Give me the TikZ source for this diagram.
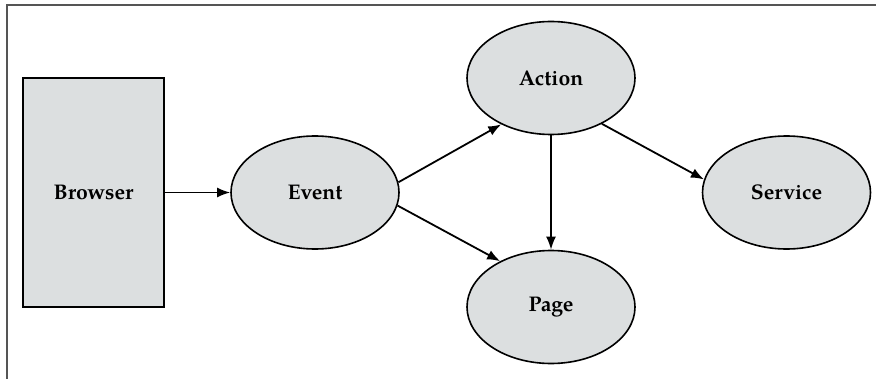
\documentclass[tikz,border=0pt]{standalone}
\usepackage{fontspec}
\setmainfont{TeX Gyre Pagella}
\usetikzlibrary{shapes.geometric,arrows.meta}
\definecolor{boxfill}{HTML}{DCDFE0}
\definecolor{framegray}{HTML}{555555}
\tikzset{
  base/.style={draw=black, line width=0.8pt, fill=boxfill, font=\fontsize{10.6}{12}\selectfont\bfseries, inner sep=0pt},
  oval/.style={base, ellipse, minimum width=84pt, minimum height=56.5pt},
  rectbox/.style={base, rectangle, minimum width=70.5pt, minimum height=114.5pt},
  conn/.style={line width=0.9pt, -{Latex[length=6.5pt,width=5pt]}}
}
\begin{document}
\begin{tikzpicture}[x=0.5pt,y=-0.5pt]
\useasboundingbox (0,0) rectangle (876,379);
\coordinate (fb) at (7,379);
\coordinate (fc) at (7,5);
\coordinate (fr) at (876,5);
\draw[framegray, line width=1pt] (fb) -- (fc) -- (fr);
\node[rectbox] (browser) at (93.5,192.5) {Browser};
\node[oval] (event) at (315,192.5) {Event};
\node[oval] (action) at (551,78) {Action};
\node[oval] (page) at (551,307) {Page};
\node[oval] (service) at (786.5,192.5) {Service};
\draw[conn] (browser.east) -- (event.west);
\draw[conn] (event.7.5) -- (action.223);
\draw[conn] (event.-9) -- (page.138.6);
\draw[conn] (action.south) -- (page.north);
\draw[conn] (action.-42) -- (service.171.5);
\end{tikzpicture}
\end{document}
